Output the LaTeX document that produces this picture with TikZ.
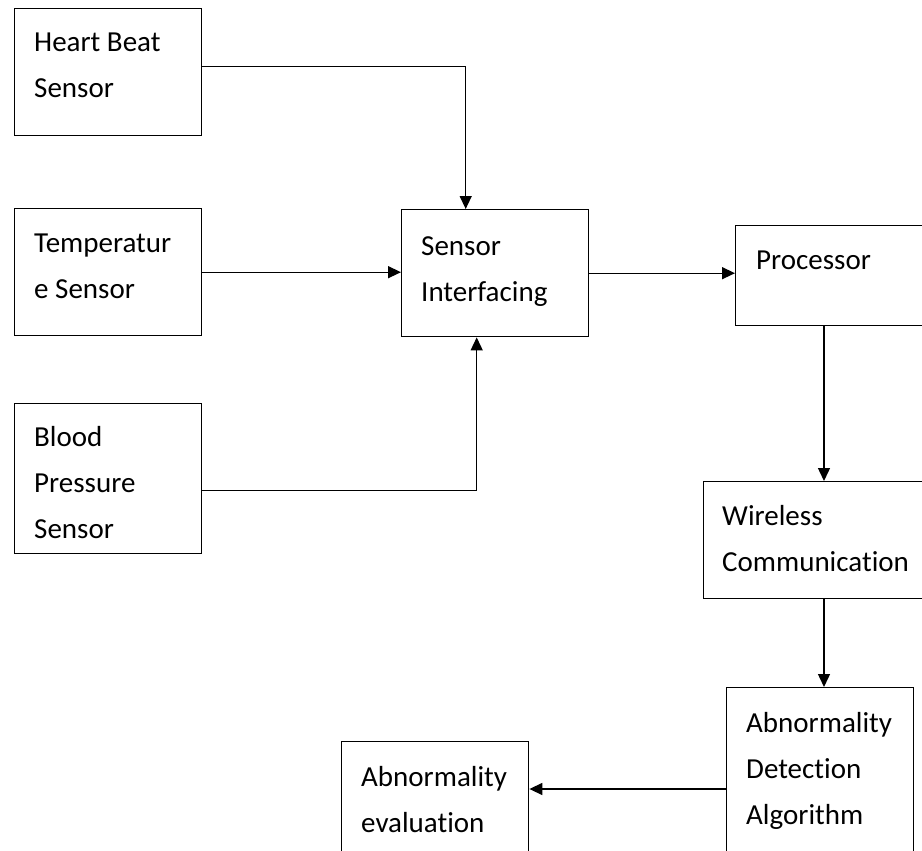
\documentclass[tikz,border=0pt]{standalone}
\usepackage{fontspec}
\setmainfont[RawFeature=-liga]{Carlito}
\usetikzlibrary{arrows.meta}
\begin{document}
\begin{tikzpicture}[x=1pt,y=-1pt,
  box/.style={draw, line width=1.4pt, inner sep=0pt, anchor=north west},
  txt/.style={anchor=base west, inner sep=0pt, text width=200pt, align=flush left,
    font=\fontsize{29}{46}\selectfont},
  arr/.style={line width=1.4pt, -{Triangle[length=13pt,width=12pt]}}]
\useasboundingbox (0,0) rectangle (922,851);
\clip (0,0) rectangle (922,851);
% boxes
\node[box, minimum width=187pt, minimum height=127pt] (hb) at (14,8) {};
\node[box, minimum width=187pt, minimum height=127pt] (tp) at (14,208) {};
\node[box, minimum width=187pt, minimum height=150pt] (bp) at (14,403) {};
\node[box, minimum width=187pt, minimum height=127pt] (si) at (401,209) {};
\node[box, minimum width=200pt, minimum height=100pt] (pr) at (735,225) {};
\node[box, minimum width=230pt, minimum height=117pt] (wc) at (703,481) {};
\node[box, minimum width=187pt, minimum height=180pt] (ada) at (726,687) {};
\node[box, minimum width=187pt, minimum height=130pt] (ev) at (341,741) {};
% texts
\node[txt] (thb) at (34,52) {Heart Beat\\Sensor};
\node[txt] (ttp) at (34,252) {Temperatur\\e Sensor};
\node[txt] (tbp) at (34,446) {Blood\\Pressure\\Sensor};
\node[txt] (tsi) at (421,255) {Sensor\\Interfacing};
\node[txt] (tpr) at (756,269) {Processor};
\node[txt] (twc) at (722,525) {Wireless\\Communication};
\node[txt] (tada) at (746,732) {Abnormality\\Detection\\Algorithm};
\node[txt] (tev) at (361,786) {Abnormality\\evaluation};
% helper coordinates
\coordinate (col) at (824,0);
\coordinate (row) at (0,789);
% connectors
\draw[arr] ([yshift=5.5pt]hb.east) -| ([xshift=-29.5pt]si.north);
\draw[arr] (tp.east) -- (tp.east -| si.west);
\draw[arr] ([yshift=-12pt]bp.east) -| ([xshift=-18.5pt]si.south);
\draw[arr] (si.east) -- (si.east -| pr.west);
\draw[arr] (pr.south -| col) -- (wc.north -| col);
\draw[arr] (wc.south -| col) -- (ada.north -| col);
\draw[arr] (ada.west |- row) -- (ev.east |- row);
\end{tikzpicture}
\end{document}
